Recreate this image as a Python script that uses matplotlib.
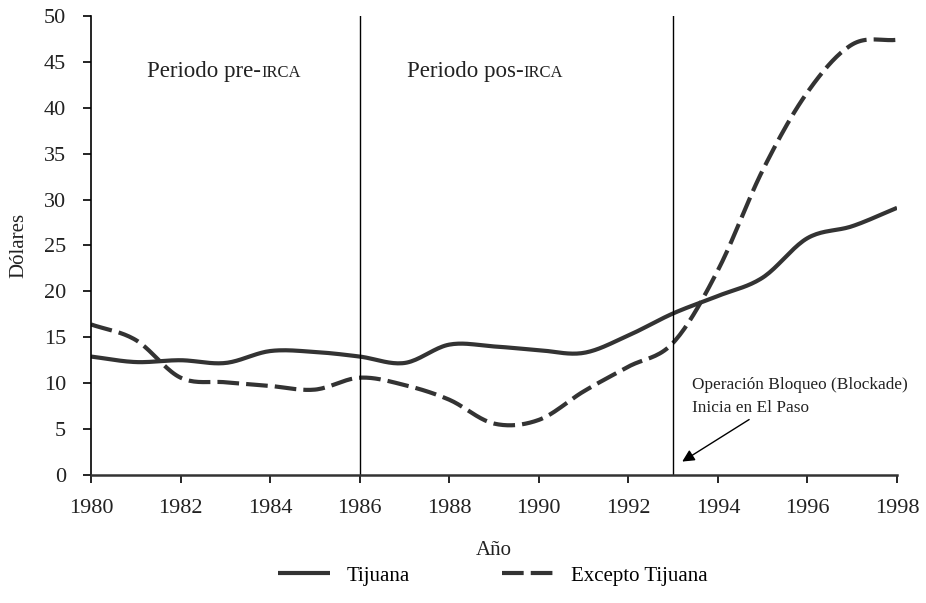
import numpy as np
import matplotlib.pyplot as plt
from matplotlib.offsetbox import TextArea, HPacker, AnnotationBbox

plt.rcParams['font.family'] = ['Liberation Serif', 'DejaVu Serif']

years = np.arange(1980, 1999)
tijuana = [12.9, 12.3, 12.5, 12.2, 13.5, 13.4, 12.9, 12.2, 14.2, 14.0,
           13.6, 13.3, 15.2, 17.6, 19.5, 21.5, 25.8, 27.1, 29.1]
excepto = [16.4, 14.7, 10.6, 10.1, 9.7, 9.3, 10.6, 9.8, 8.2, 5.6,
           6.0, 9.1, 11.8, 14.4, 22.3, 33.2, 41.7, 46.9, 47.4]

y_ticks = np.arange(0, 55, 5)
x_ticks = np.arange(1980, 2000, 2)
periods = [1986, 1993]


def smooth(x, y, n=20):
    # catmull-rom style curve through the points (like excel smoothed lines)
    x = np.asarray(x, float)
    y = np.asarray(y, float)
    px = np.concatenate([[2 * x[0] - x[1]], x, [2 * x[-1] - x[-2]]])
    py = np.concatenate([[2 * y[0] - y[1]], y, [2 * y[-1] - y[-2]]])
    t = np.linspace(0, 1, n, endpoint=False)
    xs, ys = [], []
    for i in range(1, len(px) - 2):
        for p, out in ((px, xs), (py, ys)):
            p0, p1, p2, p3 = p[i - 1], p[i], p[i + 1], p[i + 2]
            out.extend(0.5 * (2 * p1 + (-p0 + p2) * t
                              + (2 * p0 - 5 * p1 + 4 * p2 - p3) * t ** 2
                              + (-p0 + 3 * p1 - 3 * p2 + p3) * t ** 3))
    xs.append(x[-1])
    ys.append(y[-1])
    return np.array(xs), np.array(ys)


fig = plt.figure(figsize=(9.26, 6.03), dpi=100)
ax = fig.add_axes([0.0983, 0.2123, 0.8704, 0.7612])

c = '#333333'
sx, sy = smooth(years, tijuana)
ax.plot(sx, sy, color=c, lw=3.0, solid_capstyle='butt', label='Tijuana')
sx, sy = smooth(years, excepto)
ax.plot(sx, sy, color=c, lw=3.0, dashes=(5.2, 1.7), dash_capstyle='butt',
        label='Excepto Tijuana')

for p in periods:
    ax.axvline(p, color='black', lw=1)

ax.set_xlim(1980, 1998)
ax.set_ylim(0, 50)
ax.set_xticks(x_ticks)
ax.set_yticks(y_ticks)
ax.tick_params(labelsize=16, length=6, width=1.2, color='black', labelcolor='#222222')
ax.tick_params(axis='x', pad=11)
ax.tick_params(axis='y', pad=12)
for s in ('top', 'right'):
    ax.spines[s].set_visible(False)
ax.spines['left'].set_linewidth(1.2)
ax.spines['bottom'].set_linewidth(1.8)
ax.spines['bottom'].set_color('#333333')

ax.set_xlabel('Año', fontsize=15, labelpad=17, color='#222222')
ax.set_ylabel('Dólares', fontsize=15, labelpad=11, color='#222222')

for xpos, word in ((1981.25, 'Periodo pre-'), (1987.05, 'Periodo pos-')):
    box = HPacker(children=[TextArea(word, textprops=dict(fontsize=16.5, color='#222222')),
                            TextArea('IRCA', textprops=dict(fontsize=12, color='#222222'))],
                  align='baseline', pad=0, sep=0)
    ab = AnnotationBbox(box, (xpos, 43.9), box_alignment=(0, 0.5), frameon=False)
    ax.add_artist(ab)

ax.annotate('', xy=(1993.15, 1.3), xytext=(1994.75, 6.2),
            arrowprops=dict(arrowstyle='-|>', color='black', lw=1, mutation_scale=18))
ax.text(1993.42, 9.8, 'Operación Bloqueo (Blockade)', fontsize=12.4, va='center', color='#222222')
ax.text(1993.42, 7.3, 'Inicia en El Paso', fontsize=12.4, va='center', color='#222222')

fig.legend(loc='center', bbox_to_anchor=(0.532, 0.045), ncol=2, frameon=False,
           fontsize=15, handlelength=2.5, columnspacing=4.4, handletextpad=0.8)

fig.savefig('out.png', dpi=100)
